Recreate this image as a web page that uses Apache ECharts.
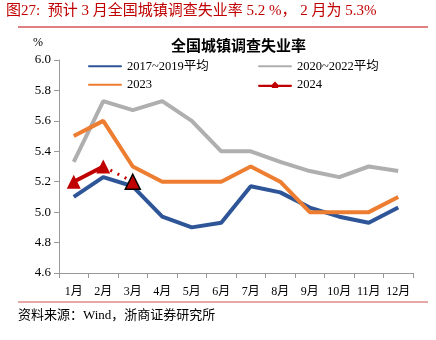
<!DOCTYPE html>
<html><head><meta charset="utf-8">
<script src="https://cdn.jsdelivr.net/npm/echarts@6/dist/echarts.min.js"></script>
<style>html,body{margin:0;padding:0;background:#fff}#c{width:436px;height:340px}</style>
</head><body><div id="c"></div>
<script>
const categories = ['1月','2月','3月','4月','5月','6月','7月','8月','9月','10月','11月','12月'];
const avg1719 = [5.10,5.23,5.17,4.97,4.90,4.93,5.17,5.13,5.03,4.97,4.93,5.03];
const avg2022 = [5.33,5.73,5.67,5.73,5.60,5.40,5.40,5.33,5.27,5.23,5.30,5.27];
const y2023 = [5.5,5.6,5.3,5.2,5.2,5.2,5.3,5.2,5.0,5.0,5.0,5.1];
const y2024 = [5.2,5.3];
const y2024est = [null,5.3,5.2];
const yTicks = [4.6,4.8,5.0,5.2,5.4,5.6,5.8,6.0];

const serif = '"Liberation Serif","Times New Roman","Noto Sans CJK SC",serif';
const lineIcon = 'path://M2,3 L32,3 A1,1 0 0 1 32,5 L2,5 A1,1 0 0 1 2,3 Z';
const triIcon = 'path://M2,3 L14,3 L17,0 L20,3 L32,3 A1,1 0 0 1 32,5 L20,5 L20,6 L14,6 L14,5 L2,5 A1,1 0 0 1 2,3 Z';
const chart = echarts.init(document.getElementById('c'));
chart.setOption({
  animation:false,
  textStyle:{fontFamily:serif},
  title:{text:'全国城镇调查失业率',left:166,top:35,textStyle:{fontSize:15,fontWeight:'bold',color:'#000',fontFamily:serif}},
  legend:[
    {left:83,top:55,orient:'vertical',itemGap:6,itemWidth:34,itemHeight:8,textStyle:{fontSize:12.5,color:'#000',fontFamily:serif},
      data:[{name:'2017~2019平均',icon:lineIcon},{name:'2023',icon:lineIcon}]},
    {left:253,top:55,orient:'vertical',itemGap:6,itemWidth:34,itemHeight:8,textStyle:{fontSize:12.5,color:'#000',fontFamily:serif},
      data:[{name:'2020~2022平均',icon:lineIcon},{name:'2024',icon:triIcon}]}
  ],
  grid:{left:59,right:23,top:60,bottom:67},
  xAxis:{type:'category',data:categories,boundaryGap:true,
    axisLine:{lineStyle:{color:'#999'}},axisTick:{show:true,alignWithLabel:false,lineStyle:{color:'#999'}},
    axisLabel:{color:'#000',fontSize:12,margin:13,interval:0,fontFamily:serif}},
  yAxis:{type:'value',min:4.6,max:6.0,interval:0.2,
    axisLine:{show:true,lineStyle:{color:'#999'}},axisTick:{show:true,lineStyle:{color:'#999'}},
    splitLine:{show:false},
    axisLabel:{color:'#000',fontSize:13,formatter:v=>v.toFixed(1),fontFamily:serif}},
  graphic:[
    {type:'text',left:6,top:4,style:{text:'图27:  预计 3 月全国城镇调查失业率 5.2 %， 2 月为 5.3%',fill:'#C00000',font:'15px '+serif}},
    {type:'line',shape:{x1:18,y1:27,x2:428,y2:27},style:{stroke:'#C00000',lineWidth:1}},
    {type:'text',left:33,top:37,style:{text:'%',fill:'#000',font:'12px '+serif}},
    {type:'line',shape:{x1:18,y1:302,x2:428,y2:302},style:{stroke:'#D05050',lineWidth:1}},
    {type:'text',left:18,top:309,style:{text:'资料来源：Wind，浙商证券研究所',fill:'#000',font:'13px '+serif}}
  ],
  series:[
    {name:'2017~2019平均',type:'line',data:avg1719,symbol:'none',lineStyle:{width:4,color:'#2E5597'},itemStyle:{color:'#2E5597'}},
    {name:'2020~2022平均',type:'line',data:avg2022,symbol:'none',lineStyle:{width:4,color:'#AFAFAF'},itemStyle:{color:'#AFAFAF'}},
    {name:'2023',type:'line',data:y2023,symbol:'none',lineStyle:{width:4,color:'#ED7D31'},itemStyle:{color:'#ED7D31'}},
    {name:'2024',type:'line',data:y2024,symbol:'triangle',symbolSize:14,lineStyle:{width:4,color:'#C00000'},itemStyle:{color:'#C00000'},z:5},
    {name:'2024预计',type:'line',data:y2024est.map((v,i)=>i===2?{value:v,symbol:'triangle',symbolSize:15,itemStyle:{color:'#C00000',borderColor:'#000',borderWidth:1.5}}:v),
      symbol:'none',showSymbol:true,lineStyle:{width:3,color:'#C00000',type:[2,6]},itemStyle:{color:'#C00000'},z:4}
  ]
});
</script></body></html>
